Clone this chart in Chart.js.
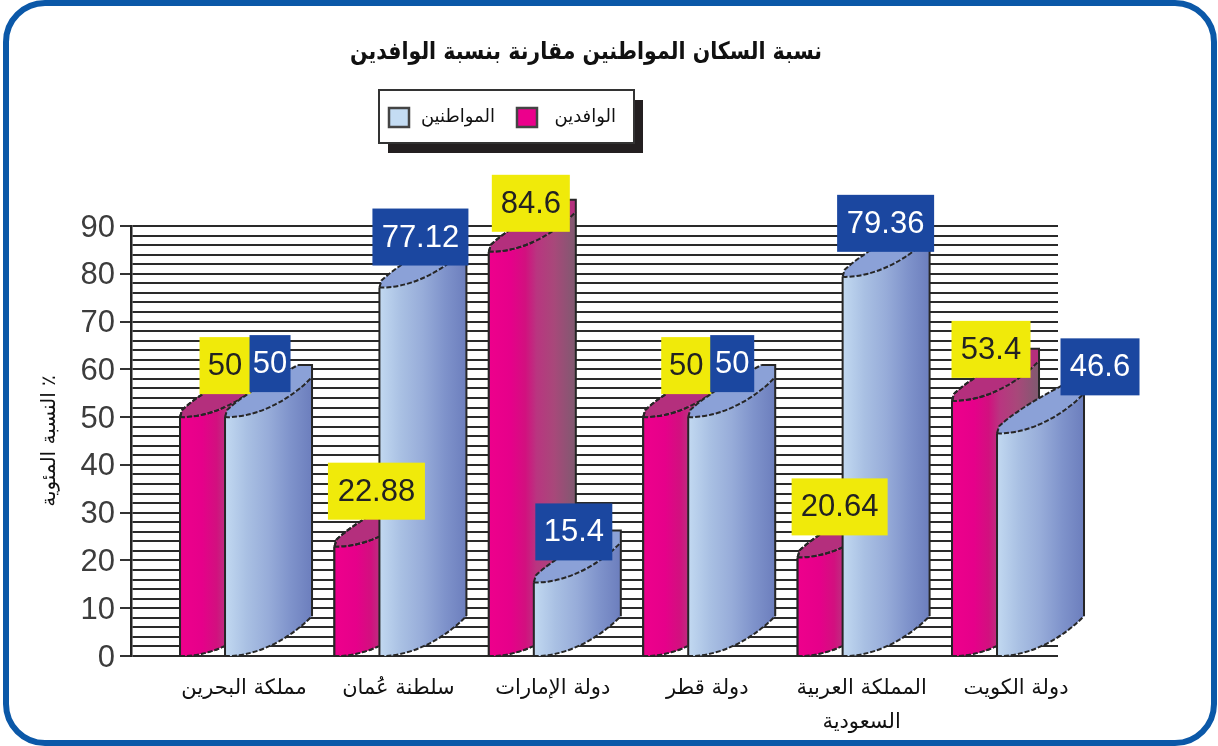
<!DOCTYPE html>
<html lang="ar">
<head>
<meta charset="utf-8">
<title>نسبة السكان المواطنين مقارنة بنسبة الوافدين</title>
<script src="https://cdn.jsdelivr.net/npm/chart.js@4"></script>
<style>
html,body{margin:0;padding:0;background:#fff;width:1218px;height:746px;overflow:hidden}
#wrap{position:relative;width:1218px;height:746px}
canvas{position:absolute;left:0;top:0}
#frame{position:absolute;left:3px;top:0;width:1214px;height:746px;box-sizing:border-box;border:6px solid #0b58a8;border-radius:42px;pointer-events:none}
</style>
</head>
<body>
<div id="wrap"><canvas id="c" width="1218" height="746"></canvas><div id="frame"></div></div>
<script>
const titleText = 'نسبة السكان المواطنين مقارنة بنسبة الوافدين';
const yAxisTitle = 'النسبة المئوية ٪';
const categories = ['مملكة البحرين', 'سلطنة عُمان', 'دولة الإمارات', 'دولة قطر', ['المملكة العربية', 'السعودية'], 'دولة الكويت'];
const seriesNames = ['الوافدين', 'المواطنين'];
const expatriates = [50, 22.88, 84.6, 50, 20.64, 53.4];
const citizens = [50, 77.12, 15.4, 50, 79.36, 46.6];
const yTicksMax = 90;

/* value-tag placement, relative to each bar */
const pinkTagDx = [45, 42, 42, 43, 42, 39];
const pinkTagGap = [23, 27, 20, 23, 22, 23];
const blueTagDx = [45, 41, 40, 44, 43, 103];
const blueTagGap = [25, 22, 22, 25, 25, 38];
const blueTagW = [41, 96, 77, 44, 97, 79];
const pinkTagW = [51, 97, 78, 50, 96, 79];

const FONT_AR = '"DejaVu Sans"';
const FONT_NUM = '"Liberation Sans"';
const BAR_W = 45, DEPTH_W = 87;
const STOPS_PINK = [[0,'#ee008c'],[.25,'#e6008a'],[.42,'#d2107f'],[.55,'#b93580'],[.75,'#a8487a'],[1,'#7f5a70']];
const STOPS_BLUE = [[0,'#c2d9f1'],[.25,'#a9c0e3'],[.5,'#97acd9'],[.75,'#7f93cb'],[1,'#6c7ebd']];

function grad(ctx, x0, stops){
  if (!Number.isFinite(x0)) return stops[0][1];
  const g = ctx.createLinearGradient(x0, 0, x0 + DEPTH_W, 0);
  stops.forEach(s => g.addColorStop(s[0], s[1]));
  return g;
}
function lowerCurve(ctx, x, y, begin){
  if (begin) ctx.moveTo(x, y);
  ctx.bezierCurveTo(x + 25, y + 1, x + 60, y - 12, x + DEPTH_W, y - 40);
}
function lowerCurveBack(ctx, x, y){
  ctx.bezierCurveTo(x + 60, y - 12, x + 25, y + 1, x, y);
}
function barX0(chart, series, i){
  return chart.scales.x.getPixelForValue(i) + (series === 0 ? -BAR_W : 0);
}
function drawSolid(chart, series, i, value){
  const ctx = chart.ctx, yS = chart.scales.y;
  const x = barX0(chart, series, i), yT = yS.getPixelForValue(value), y0 = yS.getPixelForValue(0);
  ctx.save();
  ctx.beginPath();
  lowerCurve(ctx, x, yT, true);
  ctx.lineTo(x + DEPTH_W, y0 - 40);
  lowerCurveBack(ctx, x, y0);
  ctx.closePath();
  ctx.fillStyle = grad(ctx, x, series === 0 ? STOPS_PINK : STOPS_BLUE);
  ctx.fill();
  ctx.beginPath();
  ctx.moveTo(x, yT);
  ctx.lineTo(x + 2, yT - 7);
  ctx.bezierCurveTo(x + 20, yT - 24, x + 50, yT - 40, x + DEPTH_W - 14, yT - 52);
  ctx.lineTo(x + DEPTH_W, yT - 52);
  ctx.lineTo(x + DEPTH_W, yT - 40);
  ctx.bezierCurveTo(x + 60, yT - 12, x + 25, yT + 1, x, yT);
  ctx.closePath();
  ctx.fillStyle = series === 0 ? '#b42f7d' : '#8ba1d7';
  ctx.fill();
  ctx.restore();
}
function drawEdges(chart, series, i, value){
  const ctx = chart.ctx, yS = chart.scales.y;
  const x = barX0(chart, series, i), yT = yS.getPixelForValue(value), y0 = yS.getPixelForValue(0);
  ctx.save();
  ctx.strokeStyle = '#262626';
  ctx.lineWidth = 2;
  ctx.beginPath();
  ctx.moveTo(x, y0); ctx.lineTo(x, yT);
  ctx.moveTo(x + DEPTH_W, y0 - 40); ctx.lineTo(x + DEPTH_W, yT - 52);
  ctx.lineTo(x + DEPTH_W - 14, yT - 52);
  ctx.stroke();
  ctx.setLineDash([5, 2]);
  ctx.beginPath();
  lowerCurve(ctx, x, yT, true);
  ctx.stroke();
  ctx.beginPath();
  lowerCurve(ctx, x, y0, true);
  ctx.stroke();
  ctx.beginPath();
  ctx.moveTo(x, yT);
  ctx.lineTo(x + 2, yT - 7);
  ctx.bezierCurveTo(x + 20, yT - 24, x + 50, yT - 40, x + DEPTH_W - 14, yT - 52);
  ctx.stroke();
  ctx.restore();
}
function drawTag(ctx, cx, bottom, w, text, bg, fg){
  const h = 57;
  ctx.fillStyle = bg;
  ctx.fillRect(cx - w / 2, bottom - h, w, h);
  ctx.fillStyle = fg;
  ctx.font = '31px ' + FONT_NUM;
  ctx.textAlign = 'center';
  ctx.textBaseline = 'middle';
  ctx.fillText(text, cx, bottom - h / 2 + 1);
}
function drawLegend(ctx){
  ctx.save();
  ctx.fillStyle = '#231f20';
  ctx.fillRect(388, 100, 255, 53);
  ctx.fillStyle = '#fff';
  ctx.strokeStyle = '#333';
  ctx.lineWidth = 2;
  ctx.fillRect(379, 90, 255, 53);
  ctx.strokeRect(379, 90, 255, 53);
  const items = [[517, 616, '#ec008c', seriesNames[0]], [389, 495, '#c4dcf3', seriesNames[1]]];
  items.forEach(it => {
    ctx.fillStyle = it[2];
    ctx.strokeStyle = '#444';
    ctx.lineWidth = 2.5;
    ctx.fillRect(it[0], 108, 20, 19);
    ctx.strokeRect(it[0], 108, 20, 19);
    ctx.fillStyle = '#111';
    ctx.font = '18px ' + FONT_AR;
    ctx.textAlign = 'right';
    ctx.textBaseline = 'middle';
    ctx.fillText(it[3], it[1], 117);
  });
  ctx.restore();
}

const solids3d = {
  id: 'solids3d',
  afterLayout(chart){
    // centre the title over the plot and its solids, at its drawn width
    chart.titleBlock.left = 350;
    chart.titleBlock.right = 822;
  },
  beforeDatasetsDraw(chart){
    categories.forEach((_, i) => {
      drawSolid(chart, 0, i, expatriates[i]);
      drawEdges(chart, 0, i, expatriates[i]);
      drawSolid(chart, 1, i, citizens[i]);
    });
  },
  beforeDatasetDraw(chart, args){
    // the flat bar faces follow the curved foot of each solid
    const ctx = chart.ctx, y0 = chart.scales.y.getPixelForValue(0);
    const series = args.meta.index === 0 ? 0 : 1;
    ctx.save();
    ctx.beginPath();
    categories.forEach((_, i) => {
      const x = barX0(chart, series, i);
      ctx.moveTo(x, 0);
      ctx.lineTo(x + DEPTH_W, 0);
      ctx.lineTo(x + DEPTH_W, y0 - 40);
      lowerCurveBack(ctx, x, y0);
      ctx.closePath();
    });
    ctx.clip();
  },
  afterDatasetDraw(chart){
    chart.ctx.restore();
  },
  afterDatasetsDraw(chart){
    const ctx = chart.ctx, yS = chart.scales.y;
    categories.forEach((_, i) => {
      // only the front part of the pink solid's edges stays in front of the bar face
      const px = barX0(chart, 0, i);
      ctx.save();
      ctx.beginPath();
      ctx.rect(px - 2, 0, BAR_W + 1, 746);
      ctx.clip();
      drawEdges(chart, 0, i, expatriates[i]);
      ctx.restore();
      drawEdges(chart, 1, i, citizens[i]);
    });
    ctx.save();
    categories.forEach((_, i) => {
      drawTag(ctx, barX0(chart, 0, i) + pinkTagDx[i], yS.getPixelForValue(expatriates[i]) - pinkTagGap[i], pinkTagW[i], String(expatriates[i]), '#f0ea0a', '#222');
    });
    categories.forEach((_, i) => {
      drawTag(ctx, barX0(chart, 1, i) + blueTagDx[i], yS.getPixelForValue(citizens[i]) - blueTagGap[i], blueTagW[i], String(citizens[i]), '#1b47a0', '#fff');
    });
    ctx.restore();
    drawLegend(ctx);
  }
};

new Chart(document.getElementById('c'), {
  type: 'bar',
  plugins: [solids3d],
  data: {
    datasets: [
      { label: seriesNames[0], data: expatriates.map((v, i) => ({x: i, y: v})), clip: false,
        backgroundColor: c => grad(c.chart.ctx, barX0(c.chart, 0, c.dataIndex), STOPS_PINK) },
      { label: seriesNames[1], data: citizens.map((v, i) => ({x: i, y: v})), clip: false,
        backgroundColor: c => grad(c.chart.ctx, barX0(c.chart, 1, c.dataIndex), STOPS_BLUE) }
    ]
  },
  options: {
    responsive: false,
    animation: false,
    devicePixelRatio: 1,
    barThickness: BAR_W,
    layout: { padding: { left: 0, right: 160, top: 0, bottom: 0 } },
    plugins: {
      legend: { display: false },
      tooltip: { enabled: false },
      title: {
        display: true,
        text: titleText,
        color: '#111',
        font: { family: FONT_AR, size: 24, weight: 'bold', lineHeight: 1.2 },
        padding: { top: 38, bottom: 159.2 }
      }
    },
    scales: {
      x: {
        type: 'linear',
        offset: false,
        min: -0.609,
        max: 5.395,
        afterBuildTicks: s => { s.ticks = categories.map((_, i) => ({ value: i })); },
        afterFit: s => { s.height = 90; },
        grid: { display: false, drawTicks: false, offset: false },
        border: { display: false },
        ticks: {
          autoSkip: false, maxRotation: 0, minRotation: 0,
          labelOffset: 19,
          padding: 16,
          color: '#111',
          font: { family: FONT_AR, size: 21, lineHeight: 1.6 },
          callback: v => categories[v]
        }
      },
      y: {
        min: 0,
        max: yTicksMax,
        afterFit: s => { s.width = 131; },
        title: {
          display: true,
          text: yAxisTitle,
          color: '#111',
          font: { family: FONT_AR, size: 20, lineHeight: 1.2 },
          padding: { top: 38, bottom: 0 }
        },
        border: { display: true, color: '#222', width: 2.5 },
        grid: {
          color: '#2a2a2a',
          lineWidth: 2,
          tickLength: 11,
          tickColor: c => (c.tick && c.tick.value % 10 === 0) ? '#333' : 'rgba(0,0,0,0)'
        },
        ticks: {
          stepSize: 2,
          autoSkip: false,
          padding: 5,
          labelOffset: 2,
          color: '#3c3c3c',
          font: { family: FONT_NUM, size: 31 },
          callback: v => v % 10 === 0 ? String(v) : ''
        }
      }
    }
  }
});
</script>
</body>
</html>
